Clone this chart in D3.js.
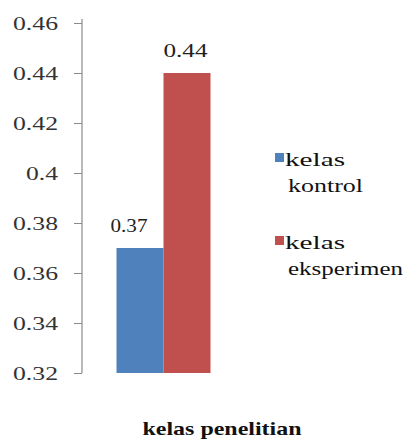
<!DOCTYPE html>
<html>
<head>
<meta charset="utf-8">
<script src="https://cdn.jsdelivr.net/npm/d3@7"></script>
<style>
  html, body { margin: 0; padding: 0; background: #fff; }
</style>
</head>
<body>
<div id="chart"></div>
<script>
const categories = ["kelas penelitian"];
const seriesNames = ["kelas kontrol", "kelas eksperimen"];
const seriesValues = [0.37, 0.44];
const tickValues = [0.32, 0.34, 0.36, 0.38, 0.4, 0.42, 0.44, 0.46];
const tickLabels = ["0.32", "0.34", "0.36", "0.38", "0.4", "0.42", "0.44", "0.46"];
const legendLines = [["kelas", "kontrol"], ["kelas", "eksperimen"]];

const colors = ["#4F81BD", "#C0504D"];
const font = "'Liberation Serif'";
const width = 408, height = 441;

const svg = d3.select("#chart")
  .append("svg")
  .attr("width", width)
  .attr("height", height)
  .attr("viewBox", `0 0 ${width} ${height}`)
  .style("font-family", font);

const y = d3.scaleLinear().domain([0.32, 0.46]).range([373, 23]);

const x0 = d3.scaleBand()
  .domain(categories)
  .range([82, 245])
  .paddingInner(0)
  .paddingOuter(0.367);

const x1 = d3.scaleBand()
  .domain(seriesNames)
  .range([0, x0.bandwidth()])
  .padding(0);

// y axis
const axis = d3.axisLeft(y)
  .tickValues(tickValues)
  .tickFormat((d, i) => tickLabels[i])
  .tickSize(8)
  .tickPadding(16);

const gAxis = svg.append("g")
  .attr("transform", "translate(82,0)")
  .call(axis)
  .attr("font-family", null);

gAxis.select(".domain")
  .attr("stroke", "#8a8a8a")
  .attr("stroke-width", 1.2)
  .attr("d", `M0,${y(0.46) - 4}V${y(0.32)}`);
gAxis.selectAll(".tick line").attr("stroke", "#8a8a8a");
gAxis.selectAll(".tick text")
  .attr("fill", "#333")
  .style("font-family", font)
  .style("font-size", "19px")
  .attr("dy", "0.34em")
  .attr("textLength", (d, i) => (tickLabels[i].length === 3 ? 32 : 45))
  .attr("lengthAdjust", "spacingAndGlyphs");

// bars
const bars = svg.append("g");
bars.selectAll("rect")
  .data(seriesValues)
  .join("rect")
  .attr("x", (d, i) => x0(categories[0]) + x1(seriesNames[i]))
  .attr("y", (d) => y(d))
  .attr("width", x1.bandwidth())
  .attr("height", (d) => y(0.32) - y(d))
  .attr("fill", (d, i) => colors[i]);

// value labels
const labelDx = [-11, -1.5];
bars.selectAll("text")
  .data(seriesValues)
  .join("text")
  .attr("x", (d, i) => x0(categories[0]) + x1(seriesNames[i]) + x1.bandwidth() / 2 + labelDx[i])
  .attr("y", (d) => y(d) - 16)
  .attr("text-anchor", "middle")
  .attr("fill", "#222")
  .style("font-family", font)
  .style("font-size", "19px")
  .attr("textLength", (d, i) => (i === 0 ? 37 : 44))
  .attr("lengthAdjust", "spacingAndGlyphs")
  .text((d) => d3.format(".2f")(d));

// legend
const legend = svg.append("g");
const legendWidths = [[60, 75], [60, 115]];
seriesNames.forEach((name, i) => {
  const g = legend.append("g").attr("transform", `translate(275,${153 + i * 83})`);
  g.append("rect")
    .attr("width", 9)
    .attr("height", 9)
    .attr("fill", colors[i]);
  legendLines[i].forEach((line, j) => {
    g.append("text")
      .attr("x", j === 0 ? 10 : 13)
      .attr("y", 13 + j * 26)
      .attr("fill", "#111")
      .style("font-family", font)
      .style("font-size", "18px")
      .attr("textLength", legendWidths[i][j])
      .attr("lengthAdjust", "spacingAndGlyphs")
      .text(line);
  });
});

// x axis title
svg.append("text")
  .attr("x", 222)
  .attr("y", 435)
  .attr("text-anchor", "middle")
  .attr("fill", "#111")
  .style("font-family", font)
  .style("font-size", "19px")
  .style("font-weight", "bold")
  .attr("textLength", 159)
  .attr("lengthAdjust", "spacingAndGlyphs")
  .text(categories[0]);
</script>
</body>
</html>
